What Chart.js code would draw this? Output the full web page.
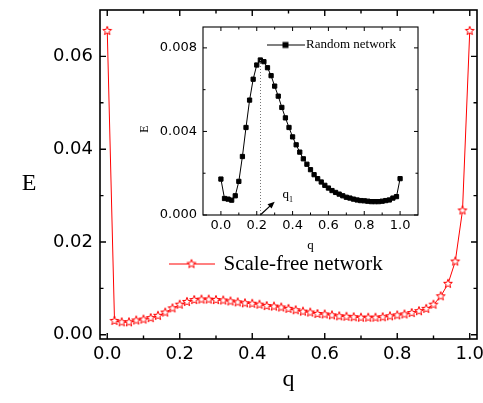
<!DOCTYPE html>
<html><head><meta charset="utf-8">
<script src="https://cdn.jsdelivr.net/npm/chart.js@4.4.1/dist/chart.umd.min.js"></script>
<style>
html,body{margin:0;padding:0;background:#fff;}
#wrap{position:relative;width:483px;height:403px;overflow:hidden;}
#main{position:absolute;left:0;top:0;}
#inset{position:absolute;left:140px;top:18px;}
</style></head><body>
<div id="wrap">
<canvas id="main" width="483" height="403"></canvas>
<canvas id="inset" width="290" height="240"></canvas>
</div>
<script>
// ---------- data ----------
const qValues = [0.00,0.02,0.04,0.06,0.08,0.10,0.12,0.14,0.16,0.18,
                 0.20,0.22,0.24,0.26,0.28,0.30,0.32,0.34,0.36,0.38,
                 0.40,0.42,0.44,0.46,0.48,0.50,0.52,0.54,0.56,0.58,
                 0.60,0.62,0.64,0.66,0.68,0.70,0.72,0.74,0.76,0.78,
                 0.80,0.82,0.84,0.86,0.88,0.90,0.92,0.94,0.96,0.98,1.00];
const scaleFreeE = [0.0655,0.0030,0.0027,0.0027,0.0031,0.0033,0.0036,0.0041,0.0048,0.0057,
                    0.0065,0.0071,0.0075,0.0076,0.0076,0.0075,0.0074,0.0072,0.0070,0.0068,
                    0.0067,0.0065,0.0062,0.0061,0.0059,0.0056,0.0053,0.0050,0.0048,0.0045,
                    0.0044,0.0042,0.0040,0.0039,0.0038,0.0037,0.0037,0.0037,0.0038,0.0040,
                    0.0042,0.0044,0.0047,0.0051,0.0056,0.0065,0.0083,0.0110,0.0158,0.0268,0.0655];
const randomE = [0.00172,0.00079,0.00076,0.00071,0.00092,0.00161,0.00280,0.00419,0.00550,0.00650,
                 0.00718,0.00742,0.00734,0.00705,0.00667,0.00617,0.00569,0.00515,0.00465,0.00419,
                 0.00374,0.00336,0.00301,0.00269,0.00243,0.00217,0.00193,0.00174,0.00158,0.00142,
                 0.00129,0.00117,0.00108,0.00100,0.00092,0.00085,0.00081,0.00076,0.00072,0.00069,
                 0.00068,0.00066,0.00064,0.00064,0.00064,0.00066,0.00069,0.00072,0.00081,0.00088,0.00174];
const mainXTicks = [0.0,0.2,0.4,0.6,0.8,1.0];
const mainXTickLabels = ['0.0','0.2','0.4','0.6','0.8','1.0'];
const mainXMinor = [0.1,0.3,0.5,0.7,0.9];
const mainYTicks = [0.00,0.02,0.04,0.06];
const mainYTickLabels = ['0.00','0.02','0.04','0.06'];
const mainYMinor = [0.01,0.03,0.05];
const insetXTicks = [0.0,0.2,0.4,0.6,0.8,1.0];
const insetXTickLabels = ['0.0','0.2','0.4','0.6','0.8','1.0'];
const insetXMinor = [0.1,0.3,0.5,0.7,0.9];
const insetYTicks = [0.000,0.004,0.008];
const insetYTickLabels = ['0.000','0.004','0.008'];
const insetYMinor = [0.002,0.006];
const q1Value = 0.22;
const q1ArrowFrom = [0.22, 0.0];
const q1ArrowTo = [0.30, 0.00064];
const q1LabelAt = [0.344, 0.00082];

// ---------- marker images ----------
function starPath(g, cx, cy, r, color) {
  g.beginPath();
  for (let k = 0; k < 10; k++) {
    const rr = k % 2 ? r * 0.42 : r;
    const ang = -Math.PI / 2 + k * Math.PI / 5;
    g.lineTo(cx + rr * Math.cos(ang), cy + rr * Math.sin(ang));
  }
  g.closePath();
  g.fillStyle = '#fff'; g.fill();
  g.strokeStyle = color; g.lineWidth = 1; g.stroke();
}
function makeStar(r, color) {
  const c = document.createElement('canvas'); c.width = 12; c.height = 12;
  starPath(c.getContext('2d'), 6, 6, r, color); return c;
}
function makeStarLegend(w, r, color) {
  const c = document.createElement('canvas'); c.width = w; c.height = 13;
  const g = c.getContext('2d');
  g.strokeStyle = color; g.lineWidth = 1; g.beginPath(); g.moveTo(0, 6.5); g.lineTo(w, 6.5); g.stroke();
  starPath(g, w / 2, 6.5, r, color); return c;
}
function makeSquareLegend(w, s) {
  const c = document.createElement('canvas'); c.width = w; c.height = 9;
  const g = c.getContext('2d');
  g.strokeStyle = '#000'; g.lineWidth = 1; g.beginPath(); g.moveTo(0, 4.5); g.lineTo(w, 4.5); g.stroke();
  g.fillStyle = '#000'; g.fillRect(w / 2 - s / 2, 4.5 - s / 2, s, s); return c;
}
const starImg = makeStar(4.6, '#ff0000');
const starLegendImg = makeStarLegend(46, 4.6, '#ff0000');
const squareLegendImg = makeSquareLegend(38, 6);

// ---------- plugins ----------
const frameTicks = {
  id: 'frameTicks',
  afterDraw(chart, args, o) {
    const {ctx, chartArea: a} = chart;
    const sx = chart.scales.x, sy = chart.scales.y;
    ctx.save();
    ctx.strokeStyle = '#000';
    ctx.lineWidth = o.tickWidth;
    ctx.beginPath();
    const vx = (vals, len) => vals.forEach(v => { const p = sx.getPixelForValue(v);
      ctx.moveTo(p, a.bottom); ctx.lineTo(p, a.bottom - len);
      ctx.moveTo(p, a.top); ctx.lineTo(p, a.top + len); });
    const vy = (vals, len) => vals.forEach(v => { const p = sy.getPixelForValue(v);
      ctx.moveTo(a.left, p); ctx.lineTo(a.left + len, p);
      ctx.moveTo(a.right, p); ctx.lineTo(a.right - len, p); });
    vx(o.xMajor, o.majorLen); vx(o.xMinor, o.minorLen);
    vy(o.yMajor, o.majorLen); vy(o.yMinor, o.minorLen);
    ctx.stroke();
    ctx.lineWidth = o.frameWidth;
    ctx.strokeRect(a.left, a.top, a.right - a.left, a.bottom - a.top);
    ctx.restore();
  }
};
const textLabels = {
  id: 'textLabels',
  afterDraw(chart, args, o) {
    const ctx = chart.ctx;
    (o.items || []).forEach(t => {
      ctx.save();
      ctx.font = t.font; ctx.fillStyle = '#000';
      ctx.textAlign = 'center'; ctx.textBaseline = 'middle';
      ctx.translate(t.x, t.y); ctx.rotate(t.rot || 0);
      ctx.fillText(t.text, 0, 0);
      ctx.restore();
    });
  }
};
const placeLegend = {
  id: 'placeLegend',
  afterLayout(chart, args, o) {
    const lg = chart.legend; if (!lg) return;
    lg.left = o.left; lg.top = o.top; lg.right = o.left + 400; lg.bottom = o.top + 60;
  }
};
const q1Marker = {
  id: 'q1Marker',
  afterDatasetsDraw(chart) {
    const {ctx} = chart; const sx = chart.scales.x, sy = chart.scales.y;
    const idx = qValues.indexOf(q1Value);
    const xq = Math.round(sx.getPixelForValue(q1Value)) + 0.5;
    ctx.save();
    ctx.strokeStyle = '#777'; ctx.lineWidth = 1; ctx.setLineDash([1, 2]);
    ctx.beginPath(); ctx.moveTo(xq, sy.getPixelForValue(randomE[idx])); ctx.lineTo(xq, sy.getPixelForValue(0)); ctx.stroke();
    ctx.setLineDash([]);
    const x0 = sx.getPixelForValue(q1ArrowFrom[0]), y0 = sy.getPixelForValue(q1ArrowFrom[1]);
    const x1 = sx.getPixelForValue(q1ArrowTo[0]), y1 = sy.getPixelForValue(q1ArrowTo[1]);
    const ang = Math.atan2(y1 - y0, x1 - x0);
    ctx.strokeStyle = '#000'; ctx.lineWidth = 1.2;
    ctx.beginPath(); ctx.moveTo(x0, y0); ctx.lineTo(x1 - 4 * Math.cos(ang), y1 - 4 * Math.sin(ang)); ctx.stroke();
    ctx.fillStyle = '#000'; ctx.beginPath();
    ctx.moveTo(x1, y1);
    ctx.lineTo(x1 - 7 * Math.cos(ang) + 3 * Math.sin(ang), y1 - 7 * Math.sin(ang) - 3 * Math.cos(ang));
    ctx.lineTo(x1 - 7 * Math.cos(ang) - 3 * Math.sin(ang), y1 - 7 * Math.sin(ang) + 3 * Math.cos(ang));
    ctx.closePath(); ctx.fill();
    const lx = sx.getPixelForValue(q1LabelAt[0]), ly = sy.getPixelForValue(q1LabelAt[1]);
    ctx.font = '13px "Liberation Serif"'; ctx.textAlign = 'left'; ctx.textBaseline = 'alphabetic';
    ctx.fillText('q', lx, ly);
    const w = ctx.measureText('q').width;
    ctx.font = '8px "Liberation Serif"'; ctx.fillText('1', lx + w, ly + 4);
    ctx.restore();
  }
};

Chart.defaults.font.family = '"DejaVu Sans"';
Chart.defaults.color = '#000';

// ---------- main chart ----------
new Chart(document.getElementById('main'), {
  type: 'line',
  data: { datasets: [{
    label: 'Scale-free network',
    data: qValues.map((q, i) => ({x: q, y: scaleFreeE[i]})),
    borderColor: '#ff0000', borderWidth: 1, tension: 0, fill: false,
    pointStyle: starImg, pointRadius: 4.6
  }]},
  options: {
    responsive: false, animation: false, devicePixelRatio: 1,
    layout: {padding: {left: 0, top: 10, right: 6, bottom: 0}, autoPadding: false},
    plugins: {
      tooltip: {enabled: false},
      legend: {
        position: 'chartArea', align: 'start',
        labels: {usePointStyle: true, pointStyle: starLegendImg, pointStyleWidth: 43, padding: 10,
                 textAlign: 'left', color: '#000', font: {family: '"Liberation Serif"', size: 21}}
      },
      placeLegend: {left: 160, top: 243.5},
      frameTicks: {frameWidth: 1.6, tickWidth: 1.4, majorLen: 6, minorLen: 3.5,
                   xMajor: mainXTicks, xMinor: mainXMinor, yMajor: mainYTicks, yMinor: mainYMinor},
      textLabels: {items: [{text: 'E', x: 29, y: 184, font: '24px "Liberation Serif"'}]}
    },
    scales: {
      x: {
        type: 'linear', min: -0.02, max: 1.02,
        grid: {display: false, drawTicks: false}, border: {display: false},
        afterBuildTicks: s => { s.ticks = mainXTicks.map(v => ({value: v})); },
        ticks: {font: {size: 18}, color: '#000', padding: 5, maxRotation: 0, autoSkip: false,
                callback: (v, i) => mainXTickLabels[i]},
        title: {display: true, text: 'q', color: '#000', font: {family: '"Liberation Serif"', size: 24},
                padding: {top: 0, bottom: 9}},
        afterFit: s => { s.height = 64; s.paddingLeft = 0; s.paddingRight = 0; }
      },
      y: {
        type: 'linear', min: -0.0009, max: 0.0700,
        grid: {display: false, drawTicks: false}, border: {display: false},
        afterBuildTicks: s => { s.ticks = mainYTicks.map(v => ({value: v})); },
        ticks: {font: {size: 18}, color: '#000', padding: 7, autoSkip: false,
                callback: (v, i) => mainYTickLabels[i]},
        afterFit: s => { s.width = 100; s.paddingTop = 0; s.paddingBottom = 0; }
      }
    }
  },
  plugins: [frameTicks, textLabels, placeLegend]
});

// ---------- inset chart ----------
new Chart(document.getElementById('inset'), {
  type: 'line',
  data: { datasets: [{
    label: 'Random network',
    data: qValues.map((q, i) => ({x: q, y: randomE[i]})),
    borderColor: '#000', borderWidth: 1, tension: 0, fill: false,
    pointStyle: 'rect', pointRadius: 3, pointBackgroundColor: '#000', pointBorderColor: '#000', pointBorderWidth: 1
  }]},
  options: {
    responsive: false, animation: false, devicePixelRatio: 1,
    layout: {padding: {left: 0, top: 9, right: 12, bottom: 0}, autoPadding: false},
    plugins: {
      tooltip: {enabled: false},
      legend: {
        position: 'chartArea', align: 'start',
        labels: {usePointStyle: true, pointStyle: squareLegendImg, pointStyleWidth: 28, padding: 10,
                 textAlign: 'left', color: '#000', font: {family: '"Liberation Serif"', size: 13}}
      },
      placeLegend: {left: 121.5, top: 10.5},
      frameTicks: {frameWidth: 1.1, tickWidth: 1, majorLen: 4, minorLen: 2.5,
                   xMajor: insetXTicks, xMinor: insetXMinor, yMajor: insetYTicks, yMinor: insetYMinor},
      textLabels: {items: [{text: 'E', x: 5, y: 111, rot: -Math.PI / 2, font: '12px "Liberation Serif"'}]}
    },
    scales: {
      x: {
        type: 'linear', min: -0.1, max: 1.1,
        grid: {display: false, drawTicks: false}, border: {display: false},
        afterBuildTicks: s => { s.ticks = insetXTicks.map(v => ({value: v})); },
        ticks: {font: {size: 13}, color: '#000', padding: 3, maxRotation: 0, autoSkip: false,
                callback: (v, i) => insetXTickLabels[i]},
        title: {display: true, text: 'q', color: '#000', font: {family: '"Liberation Serif"', size: 13},
                padding: {top: 0, bottom: 5}},
        afterFit: s => { s.height = 43; s.paddingLeft = 0; s.paddingRight = 0; }
      },
      y: {
        type: 'linear', min: 0, max: 0.009,
        grid: {display: false, drawTicks: false}, border: {display: false},
        afterBuildTicks: s => { s.ticks = insetYTicks.map(v => ({value: v})); },
        ticks: {font: {size: 13}, color: '#000', padding: 6, autoSkip: false,
                callback: (v, i) => insetYTickLabels[i]},
        afterFit: s => { s.width = 63; s.paddingTop = 0; s.paddingBottom = 0; }
      }
    }
  },
  plugins: [frameTicks, textLabels, placeLegend, q1Marker]
});
</script>
</body></html>
